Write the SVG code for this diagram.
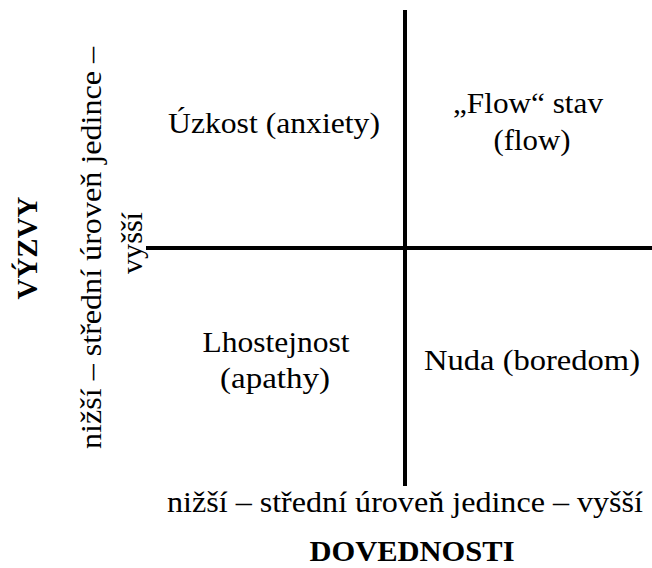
<svg xmlns="http://www.w3.org/2000/svg" width="652" height="568" viewBox="0 0 652 568">
  <style>
    .t { font-family: "Liberation Serif", "DejaVu Serif", serif; font-size: 30px; fill: #000; text-anchor: middle; }
    .b { font-family: "Liberation Serif", "DejaVu Serif", serif; font-size: 30px; font-weight: bold; fill: #000; text-anchor: middle; }
    .axis { stroke: #000; stroke-width: 4; fill: none; }
  </style>
  <rect width="652" height="568" fill="#fff"/>

  <!-- quadrant axes -->
  <g id="connectors">
    <line class="axis" x1="405" y1="10" x2="405" y2="486"/>
    <line class="axis" x1="146" y1="248" x2="652" y2="248"/>
  </g>

  <!-- quadrants -->
  <g id="anxiety">
    <text class="t" x="274" y="133" textLength="212" lengthAdjust="spacingAndGlyphs">Úzkost (anxiety)</text>
  </g>
  <g id="flow">
    <text class="t" x="528" y="113" textLength="150" lengthAdjust="spacingAndGlyphs">„Flow“ stav</text>
    <text class="t" x="532" y="150" textLength="77" lengthAdjust="spacingAndGlyphs">(flow)</text>
  </g>
  <g id="apathy">
    <text class="t" x="276" y="352" textLength="147" lengthAdjust="spacingAndGlyphs">Lhostejnost</text>
    <text class="t" x="275" y="388" textLength="110" lengthAdjust="spacingAndGlyphs">(apathy)</text>
  </g>
  <g id="boredom">
    <text class="t" x="532" y="370" textLength="216" lengthAdjust="spacingAndGlyphs">Nuda (boredom)</text>
  </g>

  <!-- horizontal axis labels -->
  <g id="skills-axis">
    <text class="t" x="405" y="512" textLength="476" lengthAdjust="spacingAndGlyphs">nižší – střední úroveň jedince – vyšší</text>
    <text class="b" x="412" y="561" textLength="205" lengthAdjust="spacingAndGlyphs">DOVEDNOSTI</text>
  </g>

  <!-- vertical axis labels -->
  <g id="challenge-axis">
    <text class="b" transform="rotate(-90 37 248)" x="37" y="248" textLength="103" lengthAdjust="spacingAndGlyphs">VÝZVY</text>
    <text class="t" transform="rotate(-90 101 248)" x="101" y="248" textLength="402" lengthAdjust="spacingAndGlyphs">nižší – střední úroveň jedince –</text>
    <text class="t" transform="rotate(-90 142 243)" x="142" y="243" textLength="62" lengthAdjust="spacingAndGlyphs">vyšší</text>
  </g>
</svg>
